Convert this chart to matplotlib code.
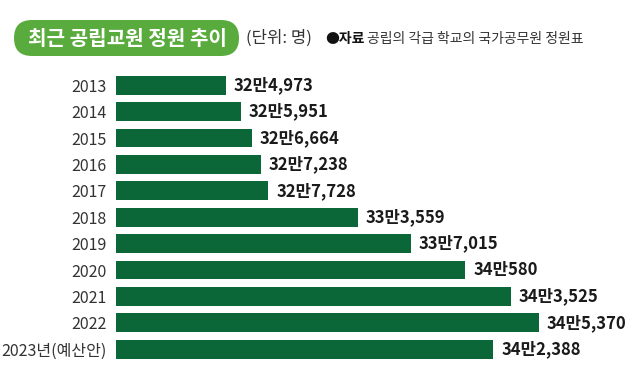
import matplotlib
matplotlib.use("Agg")
import matplotlib.pyplot as plt
from matplotlib.patches import FancyBboxPatch

plt.rcParams['font.family'] = ['Noto Sans CJK KR', 'DejaVu Sans']

years = ["2013", "2014", "2015", "2016", "2017", "2018", "2019", "2020",
         "2021", "2022", "2023년(예산안)"]
values = [324973, 325951, 326664, 327238, 327728, 333559, 337015, 340580,
          343525, 345370, 342388]
labels = ["32만4,973", "32만5,951", "32만6,664", "32만7,238", "32만7,728",
          "33만3,559", "33만7,015", "34만580", "34만3,525", "34만5,370",
          "34만2,388"]

W, H = 640, 377
fig = plt.figure(figsize=(W / 100, H / 100), dpi=100)
fig.patch.set_facecolor("white")

# overlay in pixel coordinates for header
ov = fig.add_axes([0, 0, 1, 1])
ov.set_xlim(0, W)
ov.set_ylim(H, 0)
ov.axis("off")

# axes geometry (pixels)
left_px, right_px = 116, 640
top_px, bot_px = 72.1, 362.4
ax = fig.add_axes([left_px / W, (H - bot_px) / H,
                   (right_px - left_px) / W, (bot_px - top_px) / H])
base = 317800
scale = 0.01534  # px per person
xmax = base + (right_px - left_px) / scale
ax.set_xlim(base, xmax)
ax.set_ylim(len(years) - 0.5, -0.5)

ypos = list(range(len(years)))
widths = [v - base for v in values]
ax.barh(ypos, widths, left=base, height=0.71, color="#0b6737")

for y, v, lab in zip(ypos, values, labels):
    ax.text(v + 8 / scale, y, lab, va="center", ha="left", fontsize=12,
            fontweight="bold", color="#1a1a1a")

ax.set_yticks(ypos)
ax.set_yticklabels(years, fontsize=11.5, color="#333333")
ax.tick_params(axis="y", length=0, pad=7)
ax.set_xticks([])
for s in ax.spines.values():
    s.set_visible(False)

# title box (pill)
box = FancyBboxPatch((14, 20), 225, 36,
                     boxstyle="round,pad=0,rounding_size=18",
                     facecolor="#5aab3d", edgecolor="none")
ov.add_patch(box)
ov.text(127, 38.5, "최근 공립교원 정원 추이", ha="center", va="center",
        fontsize=14.5, fontweight="bold", color="white")
ov.text(246, 38.5, "(단위: 명)", ha="left", va="center",
        fontsize=12, color="#333333")
ov.text(325, 38.5, "●자료", ha="left", va="center",
        fontsize=10, fontweight="bold", color="#111111")
ov.text(367, 38.5, "공립의 각급 학교의 국가공무원 정원표", ha="left",
        va="center", fontsize=10, color="#333333")

fig.savefig("out.png", dpi=100, facecolor="white")
